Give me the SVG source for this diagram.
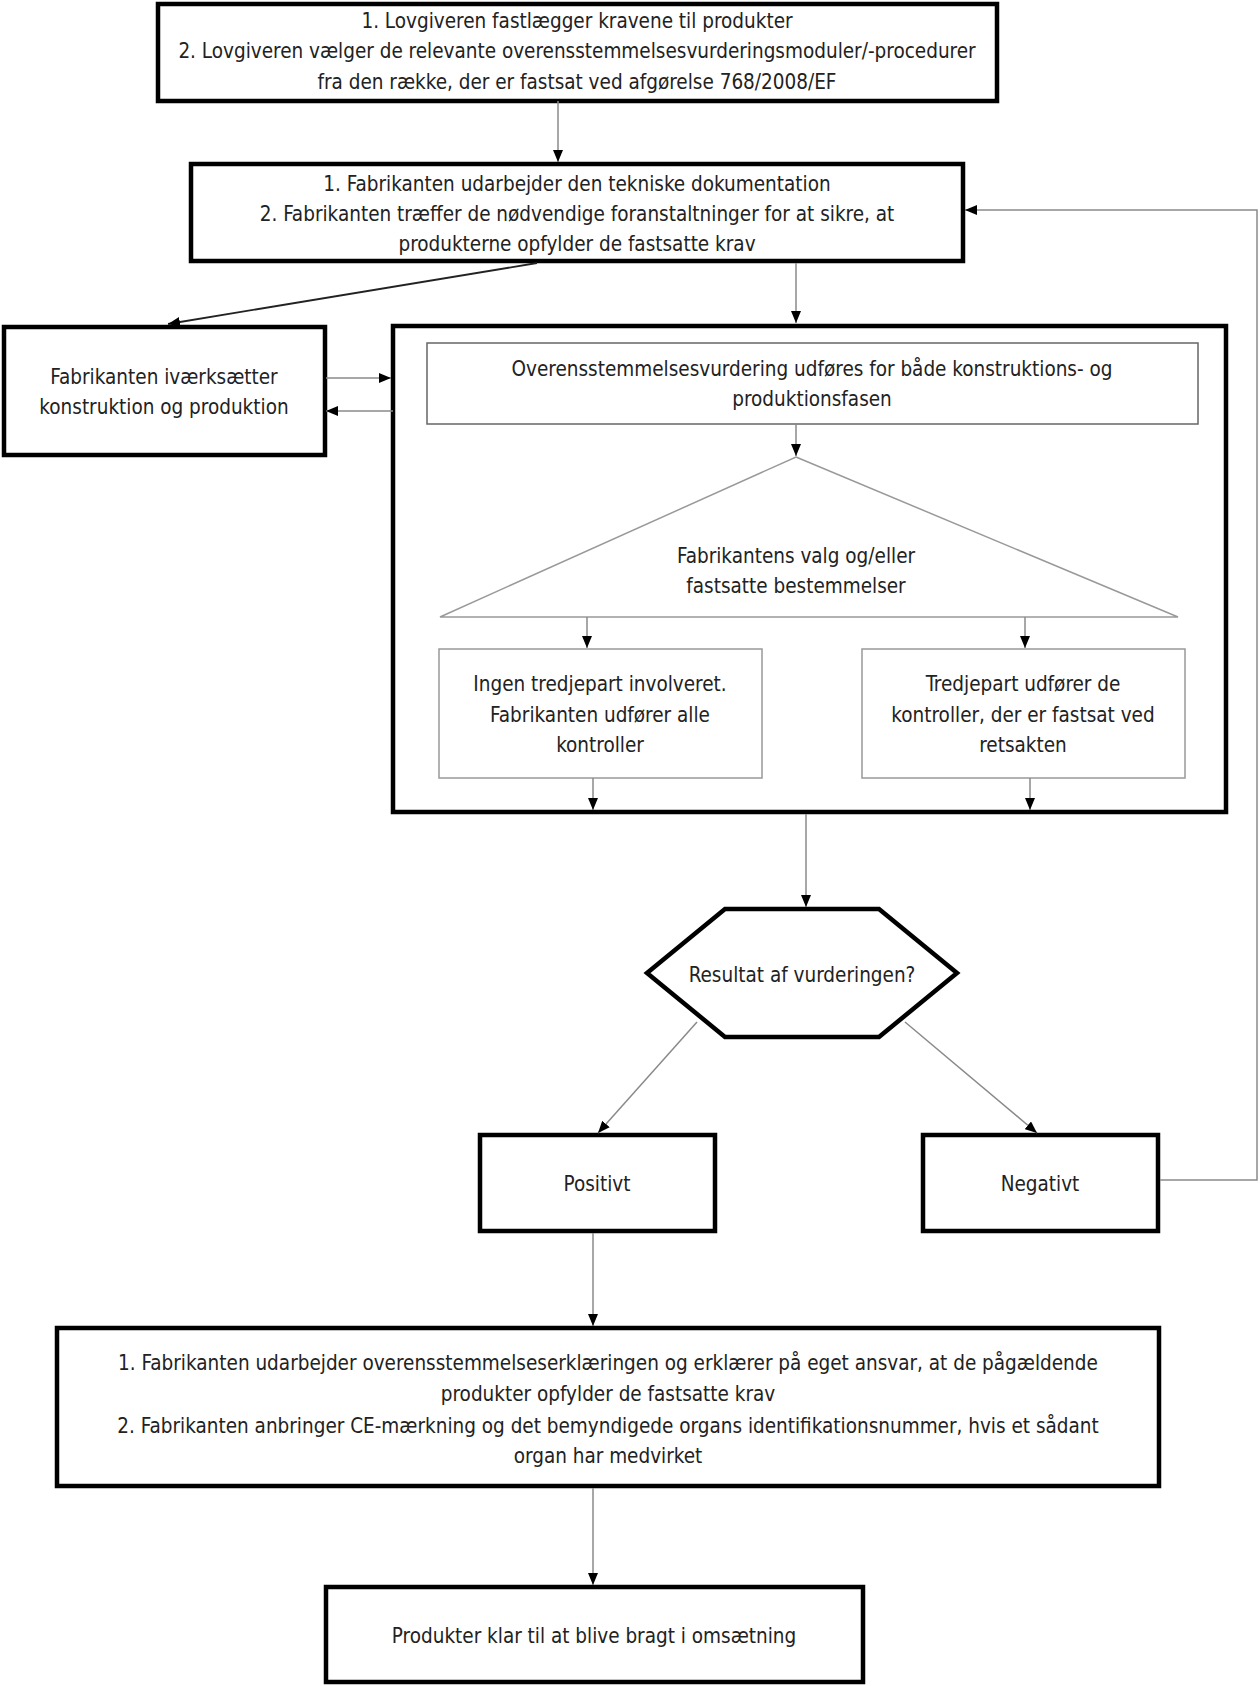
<svg xmlns="http://www.w3.org/2000/svg" width="1260" height="1686" viewBox="0 0 1260 1686">
<style>
.thick{fill:#fff;stroke:#000;stroke-width:4.5}
.thin{fill:#fff;stroke:#999;stroke-width:1.5}
.inner{fill:#fff;stroke:#666;stroke-width:1.5}
.con{fill:none;stroke:#8a8a8a;stroke-width:1.5;marker-end:url(#ah)}
.cond{fill:none;stroke:#222;stroke-width:1.8;marker-end:url(#ah)}
text{font-family:"DejaVu Sans Condensed","DejaVu Sans",sans-serif;font-size:20.5px;fill:#222;text-anchor:middle}
</style>
<defs>
<marker id="ah" markerWidth="12" markerHeight="10" refX="12" refY="5" orient="auto" markerUnits="userSpaceOnUse">
<path d="M0,0 L12,5 L0,10 Z" fill="#000"/>
</marker>
</defs>
<rect width="1260" height="1686" fill="#fff"/>

<g id="n1">
<rect class="thick" x="158" y="4" width="839" height="97"/>
<text x="577" y="28">1. Lovgiveren fastlægger kravene til produkter</text>
<text x="577" y="58">2. Lovgiveren vælger de relevante overensstemmelsesvurderingsmoduler/-procedurer</text>
<text x="577" y="89">fra den række, der er fastsat ved afgørelse 768/2008/EF</text>
</g>

<g id="n2">
<rect class="thick" x="191" y="164" width="772" height="97"/>
<text x="577" y="191">1. Fabrikanten udarbejder den tekniske dokumentation</text>
<text x="577" y="221">2. Fabrikanten træffer de nødvendige foranstaltninger for at sikre, at</text>
<text x="577" y="251">produkterne opfylder de fastsatte krav</text>
</g>

<g id="n3">
<rect class="thick" x="4" y="327" width="321" height="128"/>
<text x="164" y="384">Fabrikanten iværksætter</text>
<text x="164" y="414">konstruktion og produktion</text>
</g>

<g id="n4">
<rect class="thick" x="393" y="326" width="833" height="486"/>
</g>

<g id="n5">
<rect class="inner" x="427" y="343" width="771" height="81"/>
<text x="812" y="376">Overensstemmelsesvurdering udføres for både konstruktions- og</text>
<text x="812" y="406">produktionsfasen</text>
</g>

<g id="n6">
<polygon class="thin" points="796,457 1178,617 440,617"/>
<text x="796" y="563">Fabrikantens valg og/eller</text>
<text x="796" y="593">fastsatte bestemmelser</text>
</g>

<g id="n7">
<rect class="thin" x="439" y="649" width="323" height="129"/>
<text x="600" y="691">Ingen tredjepart involveret.</text>
<text x="600" y="722">Fabrikanten udfører alle</text>
<text x="600" y="752">kontroller</text>
</g>

<g id="n8">
<rect class="thin" x="862" y="649" width="323" height="129"/>
<text x="1023" y="691">Tredjepart udfører de</text>
<text x="1023" y="722">kontroller, der er fastsat ved</text>
<text x="1023" y="752">retsakten</text>
</g>

<g id="n9">
<polygon class="thick" points="725,909 879,909 957,973 879,1037 725,1037 647,973"/>
<text x="802" y="982">Resultat af vurderingen?</text>
</g>

<g id="n10">
<rect class="thick" x="480" y="1135" width="235" height="96"/>
<text x="597" y="1191">Positivt</text>
</g>

<g id="n11">
<rect class="thick" x="923" y="1135" width="235" height="96"/>
<text x="1040" y="1191">Negativt</text>
</g>

<g id="n12">
<rect class="thick" x="57" y="1328" width="1102" height="158"/>
<text x="608" y="1370">1. Fabrikanten udarbejder overensstemmelseserklæringen og erklærer på eget ansvar, at de pågældende</text>
<text x="608" y="1401">produkter opfylder de fastsatte krav</text>
<text x="608" y="1433">2. Fabrikanten anbringer CE-mærkning og det bemyndigede organs identifikationsnummer, hvis et sådant</text>
<text x="608" y="1463">organ har medvirket</text>
</g>

<g id="n13">
<rect class="thick" x="326" y="1587" width="537" height="95"/>
<text x="594" y="1643">Produkter klar til at blive bragt i omsætning</text>
</g>

<g id="connectors">
<path class="con" d="M558,101 L558,162"/>
<path class="cond" d="M537,263 L168,324"/>
<path class="con" d="M796,263 L796,323"/>
<path class="con" d="M326,378 L391,378"/>
<path class="con" d="M393,411 L326,411"/>
<path class="con" d="M796,424 L796,456"/>
<path class="con" d="M587,617 L587,648"/>
<path class="con" d="M1025,617 L1025,648"/>
<path class="con" d="M593,778 L593,810"/>
<path class="con" d="M1030,778 L1030,810"/>
<path class="con" d="M806,814 L806,907"/>
<path class="con" d="M697,1022 L598,1133"/>
<path class="con" d="M905,1022 L1037,1133"/>
<path class="con" d="M1160,1180 L1257,1180 L1257,210 L965,210"/>
<path class="con" d="M593,1233 L593,1326"/>
<path class="con" d="M593,1488 L593,1585"/>
</g>
</svg>
